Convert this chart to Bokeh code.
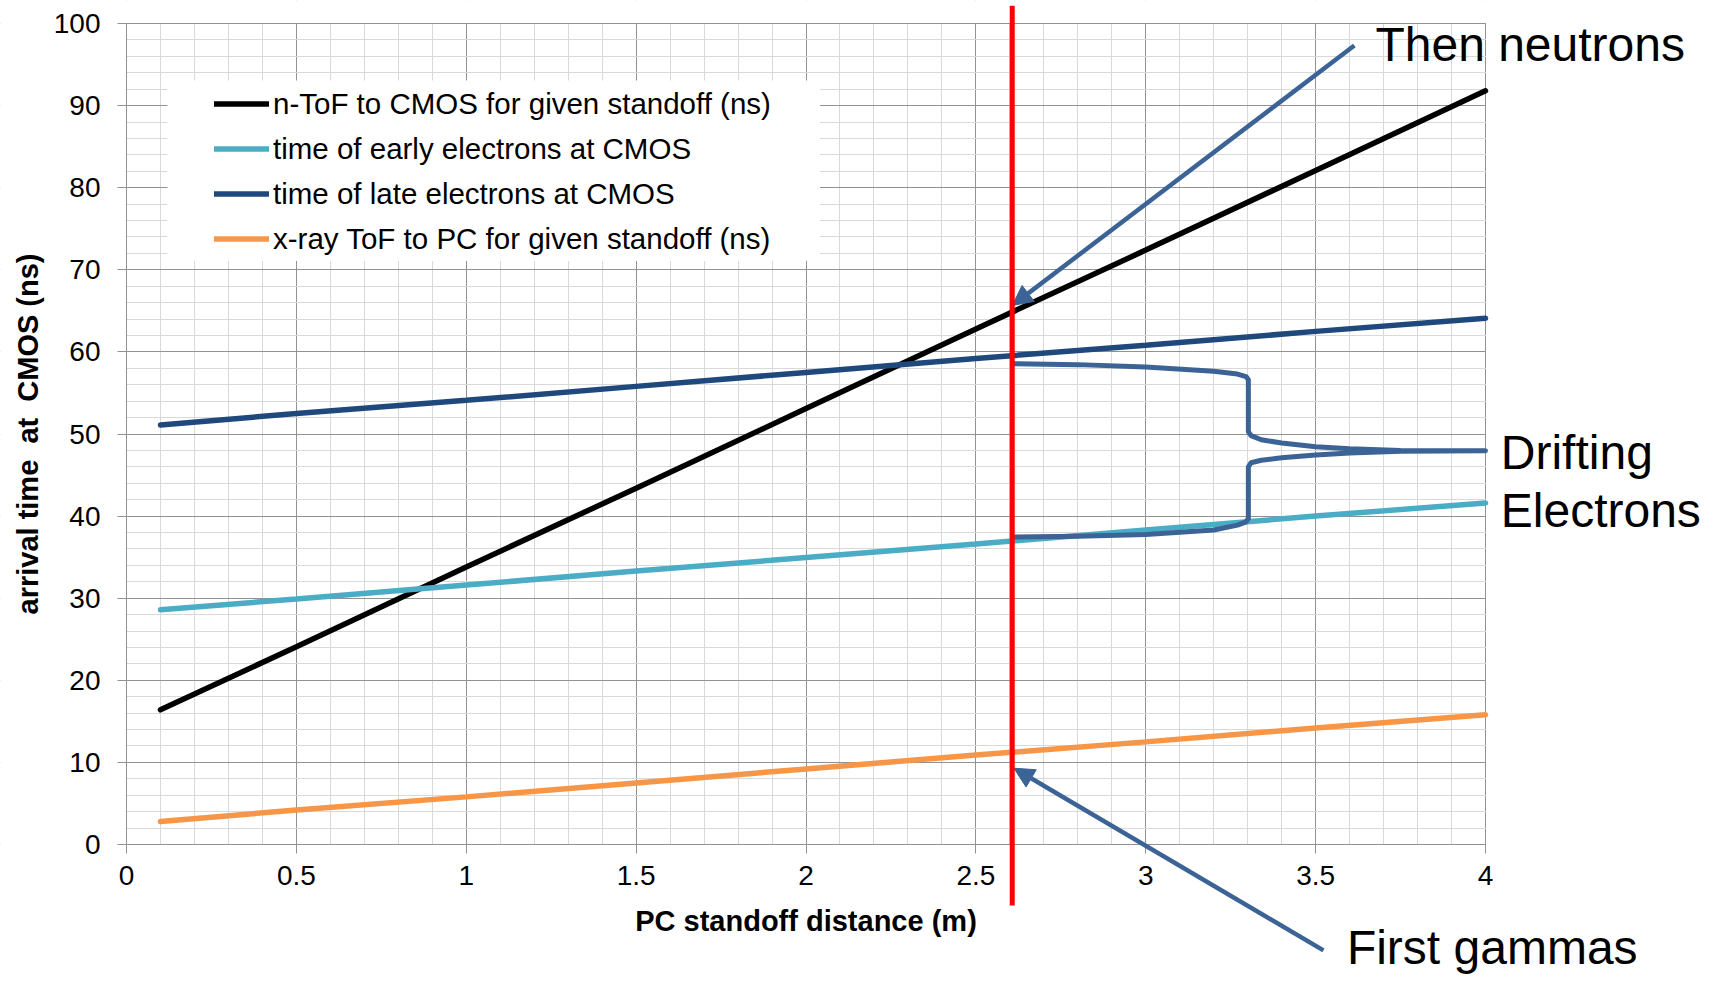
from bokeh.plotting import figure
from bokeh.models import (SingleIntervalTicker, Arrow, NormalHead, Label, BoxAnnotation,
                          NumeralTickFormatter, Range1d)
from bokeh.embed import file_html
from bokeh.resources import INLINE

# ---------------- data ----------------
distance_m = [0.1, 0.5, 1.0, 1.5, 2.0, 2.5, 3.0, 3.5, 4.0]
ntof_ns = [16.4, 24.1, 33.8, 43.4, 53.1, 62.8, 72.4, 82.1, 91.8]
early_e_ns = [28.6, 29.9, 31.6, 33.3, 34.95, 36.6, 38.3, 40.0, 41.6]
late_e_ns = [51.1, 52.5, 54.1, 55.8, 57.5, 59.2, 60.8, 62.5, 64.1]
xray_ns = [2.8, 4.2, 5.8, 7.5, 9.2, 10.9, 12.5, 14.2, 15.8]

series_labels = ["n-ToF to CMOS for given standoff (ns)",
                 "time of early electrons at CMOS",
                 "time of late electrons at CMOS",
                 "x-ray ToF to PC for given standoff (ns)"]
series_colors = ["#000000", "#4bacc6", "#1f497d", "#f79646"]

# chosen standoff (red marker line) and its drawn extent
standoff_x = 2.607
standoff_y = [102.15, -7.43]

# drifting-electron brace (hand-drawn shape in the reference)
brace_x = [2.612, 2.80, 3.00, 3.20, 3.27, 3.295, 3.302, 3.302, 3.31, 3.34, 3.40, 3.50, 3.60, 3.75, 4.0,
           3.75, 3.60, 3.50, 3.40, 3.34, 3.31, 3.302, 3.302, 3.295, 3.27, 3.20, 3.00, 2.80, 2.612]
brace_y = [58.55, 58.45, 58.15, 57.65, 57.3, 57.0, 56.6, 50.3, 49.8, 49.3, 48.9, 48.45, 48.2, 48.0, 47.95,
           47.9, 47.7, 47.45, 47.1, 46.8, 46.5, 46.0, 39.7, 39.3, 38.9, 38.3, 37.75, 37.55, 37.45]

# annotation arrows: (x_start, y_start) -> (x_end, y_end)
arrow_x0 = [3.614, 3.523]
arrow_y0 = [97.32, -12.9]
arrow_x1 = [2.607, 2.612]
arrow_y1 = [65.65, 9.29]

annot_text = ["Then neutrons", "Drifting", "Electrons", "First gammas"]
annot_x = [3.676, 4.045, 4.045, 3.592]
annot_y = [97.4, 47.75, 40.7, -12.6]

x_ticks = [0, 0.5, 1, 1.5, 2, 2.5, 3, 3.5, 4]
x_tick_labels = ["0", "0.5", "1", "1.5", "2", "2.5", "3", "3.5", "4"]
x_bounds = (0, 4)
y_bounds = (0, 100)

FONT = "Liberation Sans"
ARROW_COLOR = "#3b6395"

# ---------------- figure ----------------
# frame covers the whole canvas; axes are pinned at x=0 / y=0 so that the
# annotations (which reach outside the data box) are not clipped.
W, H = 1703, 975
X0PX, X4PX = 126, 1485       # pixel positions of x=0 and x=4
Y0PX, Y100PX = 844, 23       # pixel positions of y=0 and y=100
sx = (X4PX - X0PX) / 4.0
sy = (Y0PX - Y100PX) / 100.0
x_range = Range1d(-X0PX / sx, (W - X0PX) / sx)
y_range = Range1d(-(H - Y0PX) / sy, Y0PX / sy)

p = figure(width=W, height=H, min_border=0,
           x_range=x_range, y_range=y_range,
           output_backend="svg", toolbar_location=None)
p.outline_line_color = None
p.background_fill_color = "white"
p.border_fill_color = "white"

xt = SingleIntervalTicker(interval=0.5, num_minor_ticks=5)
yt = SingleIntervalTicker(interval=10, num_minor_ticks=5)
p.xaxis.ticker = xt
p.xgrid.ticker = xt
p.yaxis.ticker = yt
p.ygrid.ticker = yt
p.xaxis.fixed_location = 0
p.yaxis.fixed_location = 0
p.xaxis.bounds = x_bounds
p.yaxis.bounds = y_bounds
p.xgrid.bounds = x_bounds
p.ygrid.bounds = y_bounds
p.xaxis.formatter = NumeralTickFormatter(format="0.[0]")
p.xaxis.major_label_overrides = {float(t): s for t, s in zip(x_ticks, x_tick_labels)}

for g in (p.xgrid, p.ygrid):
    g.grid_line_color = "#929292"
    g.grid_line_width = 1
    g.minor_grid_line_color = "#d9d9d9"
    g.minor_grid_line_width = 1

for ax in (p.xaxis, p.yaxis):
    ax.axis_line_color = "#929292"
    ax.major_tick_line_color = "#929292"
    ax.major_tick_out = 9
    ax.major_tick_in = 0
    ax.minor_tick_out = 0
    ax.minor_tick_in = 0
    ax.major_label_text_font = FONT
    ax.major_label_text_font_size = "28px"
    ax.major_label_text_color = "#000000"
    ax.axis_label_text_font = FONT
    ax.axis_label_text_font_size = "29px"
    ax.axis_label_text_font_style = "bold"
    ax.axis_label_text_color = "#000000"

p.xaxis.major_label_standoff = 12
p.yaxis.major_label_standoff = 17
p.xaxis.axis_label = "PC standoff distance (m)"
p.yaxis.axis_label = "arrival time\u00a0 at\u00a0 CMOS (ns)"
p.xaxis.axis_label_standoff = 17
p.yaxis.axis_label_standoff = 7

# white masks: hide grid lines outside the data box, and behind the legend
xr0, xr1, yr0, yr1 = x_range.start - 1, x_range.end + 1, y_range.start - 10, y_range.end + 10
for kw in (dict(left=xr0, right=x_bounds[0] - 0.0015, bottom=yr0, top=yr1),
           dict(left=x_bounds[1] + 0.0015, right=xr1, bottom=yr0, top=yr1),
           dict(left=xr0, right=xr1, bottom=yr0, top=y_bounds[0] - 0.06),
           dict(left=xr0, right=xr1, bottom=y_bounds[1] + 0.06, top=yr1),
           dict(left=0.1206, right=2.041, bottom=71.1, top=93.06)):
    p.add_layout(BoxAnnotation(fill_color="white", fill_alpha=1, line_color=None,
                               level="underlay", **kw))

# ---------------- series ----------------
for ys, lab, col in zip([ntof_ns, early_e_ns, late_e_ns, xray_ns], series_labels, series_colors):
    p.line(distance_m, ys, line_width=5.5, line_color=col, line_cap="round", legend_label=lab)

# brace
p.line(brace_x, brace_y, line_width=5, line_color=ARROW_COLOR, line_cap="round", line_join="round")

# arrows
for x0, y0, x1, y1 in zip(arrow_x0, arrow_y0, arrow_x1, arrow_y1):
    p.add_layout(Arrow(end=NormalHead(size=20, fill_color=ARROW_COLOR, line_color=ARROW_COLOR, line_width=1),
                       x_start=x0, y_start=y0, x_end=x1, y_end=y1,
                       line_color=ARROW_COLOR, line_width=4.5))

# red standoff line
p.add_layout(Arrow(end=None, x_start=standoff_x, y_start=standoff_y[0],
                   x_end=standoff_x, y_end=standoff_y[1],
                   line_color="#ff0000", line_width=5))

# text annotations
for t, x, y in zip(annot_text, annot_x, annot_y):
    p.add_layout(Label(x=x, y=y, text=t, text_font=FONT, text_font_size="48px",
                       text_color="#000000", text_baseline="alphabetic", text_align="left"))

# ---------------- legend ----------------
lg = p.legend[0]
lg.location = (214, H - 261)
lg.padding = 2
lg.spacing = 0
lg.margin = 0
lg.label_height = 45
lg.glyph_height = 45
lg.glyph_width = 55
lg.label_standoff = 4
lg.border_line_color = None
lg.background_fill_color = "white"
lg.background_fill_alpha = 1
lg.label_text_font = FONT
lg.label_text_font_size = "29.5px"
lg.label_text_color = "#000000"
lg.label_text_baseline = "middle"

open("out.html", "w").write(file_html(p, INLINE))
